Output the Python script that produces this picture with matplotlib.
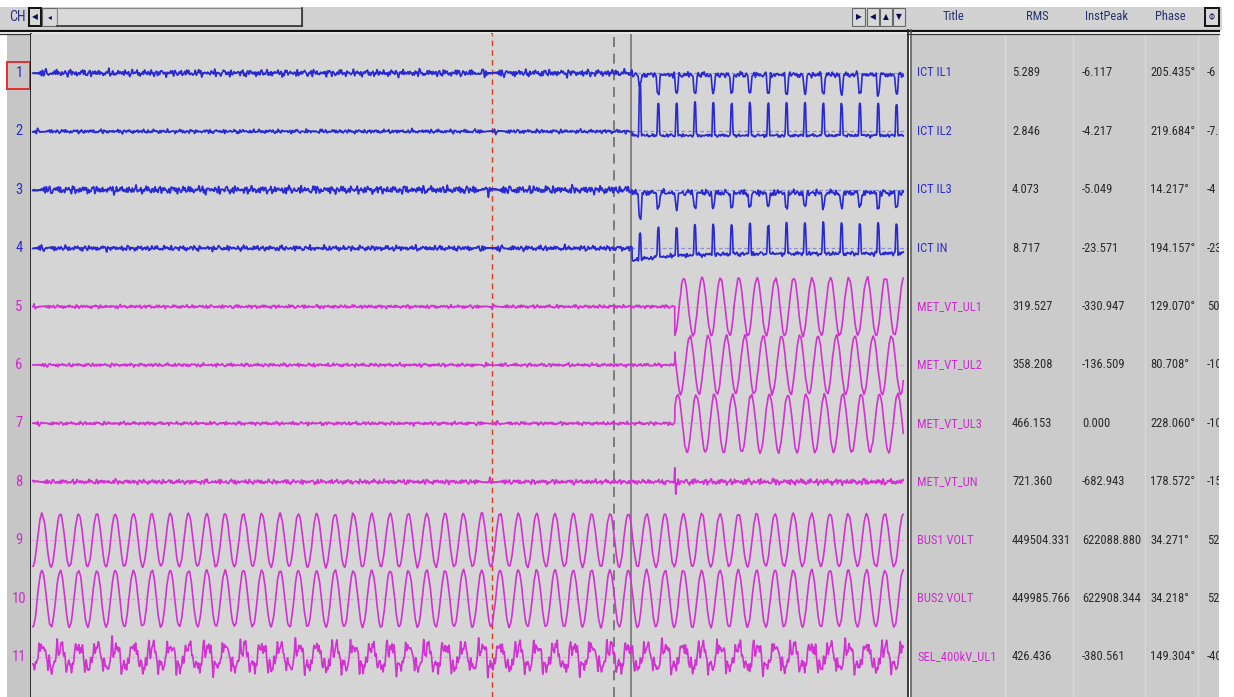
import numpy as np
import matplotlib.pyplot as plt
from matplotlib import font_manager
from matplotlib.patches import Rectangle

# ---- channel table ----
channel_names = ["ICT IL1", "ICT IL2", "ICT IL3", "ICT IN", "MET_VT_UL1", "MET_VT_UL2",
                 "MET_VT_UL3", "MET_VT_UN", "BUS1 VOLT", "BUS2 VOLT", "SEL_400kV_UL1"]
rms_values = ["5.289", "2.846", "4.073", "8.717", "319.527", "358.208", "466.153",
              "721.360", "449504.331", "449985.766", "426.436"]
inst_peak_values = ["-6.117", "-4.217", "-5.049", "-23.571", "-330.947", "-136.509",
                    "0.000", "-682.943", "622088.880", "622908.344", "-380.561"]
phase_values = ["205.435°", "219.684°", "14.217°", "194.157°", "129.070°", "80.708°",
                "228.060°", "178.572°", "34.271°", "34.218°", "149.304°"]
last_column = ["-6", "-7.", "-4", "-23", "50", "-10", "-10", "-15", "52", "52", "-40"]
header_labels = ["Title", "RMS", "InstPeak", "Phase"]

# ---- time base (ms) ----
t_start, t_end, cycle_ms = 0.0, 950.0, 20.0
cursor_red_ms = 501.0
cursor_dash_ms = 634.3
cursor_solid_ms = 652.8

# ---- CT currents (channels 1-4), in row heights ----
current_onset_ms = 654.0
current_first_pulse_ms = 662.6
current_pulse_height = [-0.31, 0.55, -0.26, 0.51]
current_first_height = [-0.17, 0.89, -0.45, 0.45]
current_shift = [-0.03, -0.07, -0.05, -0.09]
current_dc_dip = [0.0, 0.0, 0.0, -0.12]
current_pulse_width = [1.8, 1.2, 1.7, 1.2]
current_noise = [0.026, 0.015, 0.03, 0.02]

# ---- metering VT (channels 5-8) ----
vt_onset_ms = 700.6
vt_amplitude = [0.49, 0.49, 0.49]
vt_peak_ms = [10.4, 17.0, 3.9]
vt_noise = [0.013, 0.013, 0.013, 0.018]
vt_un_kick = [0.22, -0.22]

# ---- bus voltages (channels 9-10) ----
bus_amplitude = [0.45, 0.48]
bus_peak_ms = 9.9
bus_noise = 0.01

# ---- SEL 400 kV UL1 (channel 11) harmonic content ----
sel_orders = [1, 2.6, 3, 4.4, 5, 7, 9.3, 11]
sel_amplitude = [0.19, 0.04, 0.06, 0.04, 0.05, 0.035, 0.03, 0.02]
sel_phase_deg = [0, 40, 200, 110, 300, 70, 150, 260]
sel_noise = 0.012

ripple_freqs = [71, 103, 149, 191, 233, 277, 331, 389, 457, 521]

W, H = 1234, 697
names = set(font_manager.get_font_names())
NARROW = next((f for f in ["Liberation Sans Narrow", "Roboto Condensed",
                           "Open Sans Condensed", "Liberation Sans"] if f in names),
              "DejaVu Sans")
TSIZE = 9.0 if "Narrow" in NARROW or "Condensed" in NARROW else 8.0

BLUE, MAGENTA = "#2a2ad2", "#d232d2"
BLUE_TXT, MAGENTA_TXT = "#2c2cc8", "#cc2ccc"


def ripple(t, level, ch):
    out = np.zeros_like(t)
    for j, f in enumerate(ripple_freqs):
        out += np.sin(2 * np.pi * f * t / 1000.0 + 2.399 * (j + 1) * (ch + 1) + 0.7 * ch)
    return level * out / np.sqrt(len(ripple_freqs) / 2)


def sine(t, amp, peak_ms):
    return amp * np.cos(2 * np.pi * (t - peak_ms) / cycle_ms)


fig = plt.figure(figsize=(W / 100, H / 100), dpi=100)
fig.patch.set_facecolor("white")


def px_axes(x0, y0, x1, y1):
    return fig.add_axes([x0 / W, 1 - y1 / H, (x1 - x0) / W, (y1 - y0) / H])


# ---- window frame ----
bg = px_axes(0, 0, W, H)
bg.set_xlim(0, W)
bg.set_ylim(H, 0)
bg.axis("off")

bg.add_patch(Rectangle((0, 7), 1222, 23, facecolor="#d2d2d2", edgecolor="none"))
bg.add_patch(Rectangle((7, 34), 24, H - 34, facecolor="#c6c6c6", edgecolor="none"))
bg.add_patch(Rectangle((912, 34), 307, H - 34, facecolor="#cbcbcb", edgecolor="none"))
for xs in [1005, 1073, 1145, 1198]:
    bg.plot([xs, xs], [34, H], color="#d9d9d9", lw=1.0)
bg.plot([0, 1219], [31, 31], color="#111111", lw=1.6)
bg.plot([0, 1219], [33.5, 33.5], color="#333333", lw=0.9)
bg.plot([31, 31], [34, H], color="#111111", lw=1.2)
bg.plot([908, 908], [30, H], color="#2a2a2a", lw=1.3)
bg.plot([911, 911], [30, H], color="#4a4a4a", lw=1.1)


def button(x0, x1, glyph, bold=False):
    bg.add_patch(Rectangle((x0, 8), x1 - x0, 18, facecolor="#d8d8d8",
                           edgecolor="#111111" if bold else "#666666",
                           lw=1.4 if bold else 0.8))
    bg.text((x0 + x1) / 2, 17, glyph, ha="center", va="center", fontsize=5.5,
            color="#0c0c50")


bg.text(17, 17, "CH", ha="center", va="center", fontsize=TSIZE + 1, color="#30307a",
        family=NARROW)
button(29, 41, "◀", bold=True)
button(42, 57, "◂")
bg.add_patch(Rectangle((57, 8), 245, 18, facecolor="#d9d9d9", edgecolor="#8a8a8a", lw=0.8))
bg.plot([302, 302], [8, 26], color="#333333", lw=1.2)
bg.plot([57, 302], [26, 26], color="#333333", lw=1.2)
button(852, 865, "▶")
button(867, 879, "◀")
button(880, 892, "▲")
button(893, 905, "▼")
button(1205, 1219, "Φ", bold=True)
for label, xc in zip(header_labels, [953, 1037, 1107, 1170]):
    bg.text(xc, 17, label, ha="center", va="center", fontsize=TSIZE,
            color="#283070", family=NARROW)

# ---- waveforms ----
ax = px_axes(31, 34, 907, 697)
ax.set_facecolor("#d5d5d5")
ax.set_xlim(-2, 954)
row_px = 58.4
ax.set_ylim(1 + (697 - 73) / row_px, 1 - (73 - 34) / row_px)
ax.set_xticks([])
ax.set_yticks([])
for s in ax.spines.values():
    s.set_visible(False)

t = np.arange(t_start, t_end, 0.1)
traces = []

# CT currents: flat before the fault, saturated pulse trains after it
after_i = t >= current_onset_ms
k = np.round((t - current_first_pulse_ms) / cycle_ms)
d = t - current_first_pulse_ms - k * cycle_ms
for i in range(4):
    shape = np.exp(-(d / current_pulse_width[i]) ** 4)
    gain = np.where(k == 0, current_first_height[i], current_pulse_height[i])
    pulses = np.where(k >= 0, gain * shape, 0.0)
    shift = np.where(after_i, current_shift[i]
                     + current_dc_dip[i] * np.exp(-(t - current_onset_ms) / 45.0), 0.0)
    level = np.where(after_i, current_noise[i] * 0.8, current_noise[i])
    traces.append(pulses + shift + ripple(t, 1.0, i) * level)

# metering VT: energised after the voltage onset
after_v = t >= vt_onset_ms
for i in range(3):
    sig = np.where(after_v, sine(t, vt_amplitude[i], vt_peak_ms[i]), 0.0)
    traces.append(sig + ripple(t, vt_noise[i], 4 + i))
kick = (vt_un_kick[0] * np.exp(-((t - vt_onset_ms) / 0.5) ** 2)
        + vt_un_kick[1] * np.exp(-((t - vt_onset_ms - 1.1) / 0.5) ** 2))
un_level = np.where(after_v, vt_noise[3] * 1.3, vt_noise[3])
traces.append(kick + ripple(t, 1.0, 7) * un_level)

# bus voltages
for i in range(2):
    traces.append(sine(t, bus_amplitude[i], bus_peak_ms) + ripple(t, bus_noise, 8 + i))

# SEL relay phase voltage, heavily distorted
sel = np.zeros_like(t)
for order, amp, ph in zip(sel_orders, sel_amplitude, sel_phase_deg):
    sel += amp * np.cos(2 * np.pi * order * (t - bus_peak_ms) / cycle_ms + np.radians(ph))
traces.append(sel + ripple(t, sel_noise, 10))

for i, trace in enumerate(traces):
    row = i + 1
    colour = BLUE if i < 4 else MAGENTA
    light = "#8c8cd0" if i < 4 else "#e6a0e6"
    ax.axhline(row, color=light, lw=0.9, ls=(0, (3, 2)), zorder=1)
    ax.plot(t, row - trace, color=colour, lw=1.2, zorder=3)

ax.axvline(cursor_red_ms, color="#d8401c", lw=1.0, ls=(0, (4, 3)), zorder=2)
ax.axvline(cursor_dash_ms, color="#6c6c6c", lw=1.2, ls=(0, (6, 4)), zorder=2)
ax.axvline(cursor_solid_ms, color="#7c7c7c", lw=1.3, zorder=2)
bg.plot([492, 492], [34, 42], color="#222222", lw=1.2)

# ---- channel numbers ----
for i in range(len(channel_names)):
    y = 73 + i * row_px
    colour = BLUE_TXT if i < 4 else MAGENTA_TXT
    bg.text(19, y, str(i + 1), ha="center", va="center", fontsize=TSIZE + 1.5,
            color=colour, family=NARROW)
bg.add_patch(Rectangle((7, 62), 23, 27, facecolor="none", edgecolor="#e03030", lw=1.4))

# ---- value table ----
tab = px_axes(912, 34, 1219, 697)
tab.set_xlim(912, 1219)
tab.set_ylim(697, 34)
tab.axis("off")
for i, name in enumerate(channel_names):
    y = 73 + i * row_px
    colour = BLUE_TXT if i < 4 else MAGENTA_TXT
    tab.text(917, y, name, ha="left", va="center", fontsize=TSIZE, color=colour,
             family=NARROW, clip_on=True)
    for xs, col in zip([1012, 1082, 1150, 1207],
                       [rms_values, inst_peak_values, phase_values, last_column]):
        tab.text(xs, y, col[i], ha="left", va="center", fontsize=TSIZE,
                 color="#2a2a2a", family=NARROW, clip_on=True)

fig.savefig("out.png", dpi=100)
